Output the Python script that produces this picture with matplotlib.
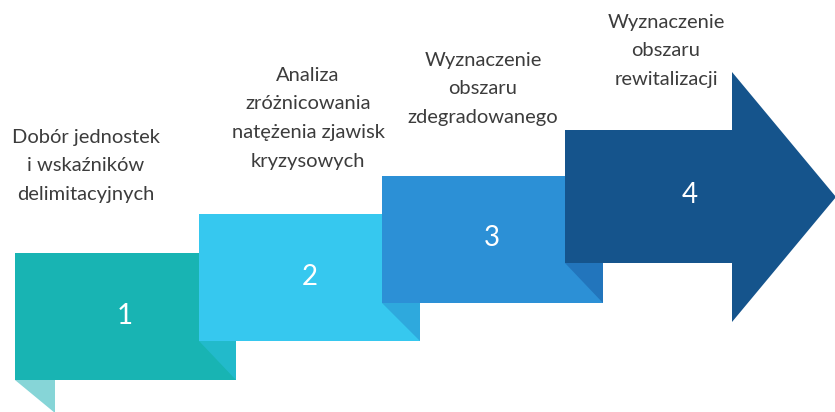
import matplotlib
matplotlib.use("Agg")
import matplotlib.pyplot as plt
from matplotlib.patches import Polygon

plt.rcParams['font.family'] = ['Lato', 'DejaVu Sans']

# step data
step_numbers = ["1", "2", "3", "4"]
step_labels = [
    ["Dobór jednostek", "i wskaźników", "delimitacyjnych"],
    ["Analiza", "zróżnicowania", "natężenia zjawisk", "kryzysowych"],
    ["Wyznaczenie", "obszaru", "zdegradowanego"],
    ["Wyznaczenie", "obszaru", "rewitalizacji"],
]
box_colors = ["#18b4b3", "#36c8ef", "#2c90d6", "#15548c"]
fold_colors = ["#22bacb", "#2ea9dd", "#2275bc"]
tail_color = "#86d5d7"
text_color = "#3c3c3c"

W, H = 835, 412
fig = plt.figure(figsize=(W / 100, H / 100), dpi=100)
ax = fig.add_axes([0, 0, 1, 1])
ax.set_xlim(0, W)
ax.set_ylim(H, 0)
ax.axis('off')

# layout (pixels)
lefts = [15, 199, 382, 565]
tops = [253, 214, 176, 130]
bw, bh = 221, 127

# boxes 1-3
for i in range(3):
    x0, y0 = lefts[i], tops[i]
    ax.add_patch(Polygon([(x0, y0), (x0 + bw, y0), (x0 + bw, y0 + bh), (x0, y0 + bh)],
                         closed=True, color=box_colors[i], lw=0, zorder=i + 1))

# arrow 4
sx, sy, sb = lefts[3], tops[3], 263
hx, htop, hbot, tip = 732, 72, 322, (836, 197)
ax.add_patch(Polygon([(sx, sy), (hx, sy), (hx, htop), tip, (hx, hbot), (hx, sb), (sx, sb)],
                     closed=True, color=box_colors[3], lw=0, zorder=4))

# folds where each box tucks under the next one
for i in range(3):
    xr = lefts[i] + bw
    yb = tops[i] + bh
    ynb = tops[i + 1] + (bh if i < 2 else 133)
    ax.add_patch(Polygon([(lefts[i + 1], ynb), (xr, ynb), (xr, yb)],
                         closed=True, color=fold_colors[i], lw=0, zorder=5))

# tail under box 1
ax.add_patch(Polygon([(15, 380), (55, 380), (55, 413)],
                     closed=True, color=tail_color, lw=0, zorder=0))

# numbers
num_pos = [(125, 316), (310, 277), (492, 238), (690, 195)]
for n, (x, y) in zip(step_numbers, num_pos):
    ax.text(x, y, n, color="white", fontsize=20, ha="center", va="center", zorder=6)

# labels
label_pos = [(86, 137), (308, 75), (483, 60), (666, 22)]
pitch = 28.7
for lines, (x, y) in zip(step_labels, label_pos):
    for k, line in enumerate(lines):
        ax.text(x, y + k * pitch, line, color=text_color, fontsize=14.5,
                ha="center", va="center", zorder=6)

fig.savefig("out.png", dpi=100)
